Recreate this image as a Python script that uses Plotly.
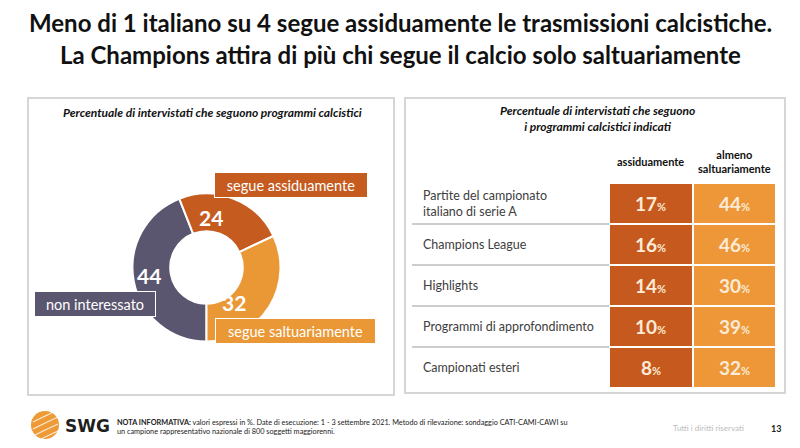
import plotly.graph_objects as go

# ---------------- data ----------------
title_lines = ["Meno di 1 italiano su 4 segue assiduamente le trasmissioni calcistiche.",
               "La Champions attira di più chi segue il calcio solo saltuariamente"]
donut_labels = ["non interessato", "segue assiduamente", "segue saltuariamente"]
donut_values = [44, 24, 32]
donut_colors = ["#5B5670", "#C55B1F", "#EA9836"]

row_labels = ["Partite del campionato<br>italiano di serie A", "Champions League", "Highlights",
              "Programmi di approfondimento", "Campionati esteri"]
col_labels = ["assiduamente", "almeno<br>saltuariamente"]
assiduamente = [17, 16, 14, 10, 8]
saltuariamente = [44, 46, 30, 39, 32]
table_colors = ["#C65A1E", "#ED9738"]

W, H = 800, 448
FONT = "Lato"


def px(x):
    return x / W


def py(y):
    return 1 - y / H


def ann(text, x, y, xref="paper", yref="paper", xanchor="center", yanchor="middle", **kw):
    return dict(text=text, x=x, y=y, xref=xref, yref=yref, xanchor=xanchor, yanchor=yanchor,
                showarrow=False, **kw)


fig = go.Figure()

# ---------------- donut ----------------
fig.add_trace(go.Pie(
    labels=donut_labels, values=donut_values, sort=False, direction="clockwise",
    rotation=180, hole=0.49, textinfo="none", hoverinfo="label+value",
    marker=dict(colors=donut_colors, line=dict(color="white", width=2)),
    domain=dict(x=[px(132.5), px(280.5)], y=[py(341.5), py(193.5)]),
    showlegend=False,
))

# ---------------- table as heatmap ----------------
values_matrix = [[a, s] for a, s in zip(assiduamente, saltuariamente)]
z = [[0, 1] for _ in row_labels]
fig.add_trace(go.Heatmap(
    z=z, x=[0, 1], y=list(range(len(row_labels))),
    colorscale=[[0, table_colors[0]], [0.5, table_colors[0]], [0.5, table_colors[1]], [1, table_colors[1]]],
    zmin=0, zmax=1, showscale=False, xgap=2, ygap=2, hoverinfo="skip",
    xaxis="x", yaxis="y",
))

annotations = []
shapes = []

# titles
for i, t in enumerate(title_lines):
    annotations.append(ann(f"<b>{t}</b>", 0.5, py(22 + 32 * i),
                           font=dict(family=FONT, size=24, color="#111111")))

# panels
shapes.append(dict(type="rect", xref="paper", yref="paper", x0=px(28), x1=px(394), y0=py(395), y1=py(98),
                   line=dict(color="#D6D6D6", width=2), fillcolor="rgba(0,0,0,0)", layer="below"))
shapes.append(dict(type="rect", xref="paper", yref="paper", x0=px(405), x1=px(785), y0=py(393), y1=py(98),
                   line=dict(color="#D6D6D6", width=2), fillcolor="rgba(0,0,0,0)", layer="below"))

# panel titles
annotations.append(ann("<b><i>Percentuale di intervistati che seguono programmi calcistici</i></b>",
                       px(212), py(113), font=dict(family=FONT, size=12, color="#111111")))
annotations.append(ann("<b><i>Percentuale di intervistati che seguono<br>i programmi calcistici indicati</i></b>",
                       px(597), py(118), font=dict(family=FONT, size=12, color="#111111")))

# donut value labels
value_pos = [(149, 275), (211, 218), (234, 302)]
for v, (x, y) in zip(donut_values, value_pos):
    annotations.append(ann(f"<b>{v}</b>", px(x), py(y), font=dict(family=FONT, size=21, color="white")))

# donut category boxes
box_pos = [(95, 304, 118), (291, 185, 150), (295.5, 330.5, 157)]
for lab, col, (x, y, w) in zip(donut_labels, donut_colors, box_pos):
    annotations.append(ann(lab, px(x), py(y), width=w, height=22, bgcolor=col, bordercolor="white",
                           borderwidth=1, font=dict(family=FONT, size=14.5, color="white")))

# table column headers
for j, c in enumerate(col_labels):
    annotations.append(ann(f"<b>{c}</b>", j, py(162), xref="x",
                           font=dict(family=FONT, size=11, color="#111111")))

# row labels + separators
for i, r in enumerate(row_labels):
    annotations.append(ann(r, px(421), i, yref="y", xanchor="left", align="left",
                           font=dict(family=FONT, size=12.5, color="#404040")))
    if i < len(row_labels) - 1:
        shapes.append(dict(type="line", xref="paper", yref="y", x0=px(412), x1=px(609),
                           y0=i + 0.5, y1=i + 0.5, line=dict(color="#BDBDBD", width=1.5)))

# cell values
for i, row in enumerate(values_matrix):
    for j, v in enumerate(row):
        annotations.append(ann(f"<b>{v}<span style='font-size:11px'>%</span></b>", j, i, xref="x", yref="y",
                               font=dict(family=FONT, size=19, color="#FCEBD6")))

# footer
shapes.append(dict(type="circle", xref="paper", yref="paper", x0=px(31), x1=px(59), y0=py(439), y1=py(411),
                   fillcolor="#EE9A36", line=dict(width=0)))
for k in range(4):
    yy = 414 + k * 7
    shapes.append(dict(type="path", xref="paper", yref="paper",
                       path=f"M {px(33)} {py(yy + 8)} Q {px(45)} {py(yy + 2)} {px(58)} {py(yy - 4)}",
                       line=dict(color="rgba(255,255,255,0.8)", width=1.2)))
annotations.append(ann("<b>SWG</b>", px(63), py(426), xanchor="left",
                       font=dict(family="DejaVu Sans", size=17, color="#1F1F1F")))
annotations.append(ann(
    "<b>NOTA INFORMATIVA:</b> valori espressi in %. Date di esecuzione: 1 - 3 settembre 2021. Metodo di rilevazione: sondaggio CATI-CAMI-CAWI su<br>un campione rappresentativo nazionale di 800 soggetti maggiorenni.",
    px(115), py(427), xanchor="left", align="left", font=dict(family=FONT, size=7.3, color="#222222")))
annotations.append(ann("Tutti i diritti riservati", px(746), py(428), xanchor="right",
                       font=dict(family=FONT, size=8, color="#BBBBBB")))
annotations.append(ann("<b>13</b>", px(776), py(428), font=dict(family=FONT, size=9, color="#222222")))

fig.update_layout(
    width=W, height=H, margin=dict(l=0, r=0, t=0, b=0),
    paper_bgcolor="white", plot_bgcolor="white",
    xaxis=dict(domain=[px(609), px(776)], range=[-0.5, 1.5], visible=False, fixedrange=True),
    yaxis=dict(domain=[py(388), py(183)], range=[4.5, -0.5], visible=False, fixedrange=True),
    annotations=annotations, shapes=shapes,
)

fig.write_html("out.html", config={"displayModeBar": False},
               post_script="document.body.style.margin='0';document.body.style.overflow='hidden';")
